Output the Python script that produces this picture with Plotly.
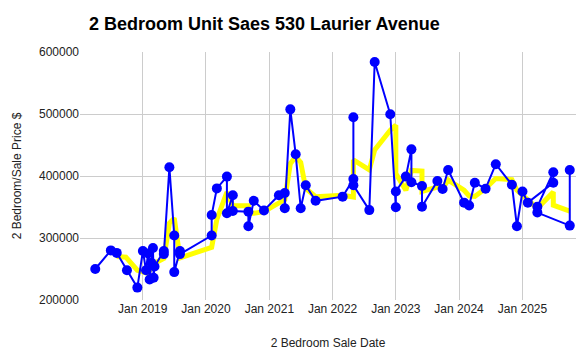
import plotly.graph_objects as go

sale_dates = [
    "2018-04-02", "2018-07-01", "2018-08-04", "2018-10-02", "2018-12-01",
    "2019-01-02", "2019-01-20", "2019-02-01", "2019-02-10", "2019-02-20",
    "2019-03-01", "2019-03-05", "2019-03-10", "2019-05-03", "2019-05-03",
    "2019-06-04", "2019-07-02", "2019-07-02", "2019-08-04", "2019-08-04",
    "2020-02-03", "2020-02-03", "2020-03-04", "2020-05-01", "2020-05-01",
    "2020-06-04", "2020-06-04", "2020-09-02", "2020-09-02", "2020-10-03",
    "2020-12-01", "2021-02-25", "2021-03-31", "2021-03-31", "2021-05-02",
    "2021-06-02", "2021-07-01", "2021-07-30", "2021-09-25", "2022-02-28",
    "2022-05-01", "2022-05-01", "2022-05-01", "2022-08-01", "2022-09-01",
    "2022-11-30", "2023-01-01", "2023-01-01", "2023-02-28", "2023-04-01",
    "2023-04-01", "2023-06-01", "2023-06-01", "2023-08-29", "2023-09-28",
    "2023-10-30", "2024-01-30", "2024-02-28", "2024-04-01", "2024-06-02",
    "2024-07-31", "2024-11-01", "2024-11-30", "2025-01-01", "2025-02-01",
    "2025-06-28", "2025-06-28", "2025-03-28", "2025-03-28", "2025-10-01",
    "2025-10-01",
]
sale_prices = [
    250000, 280000, 276000, 248000, 220000,
    279000, 248000, 275000, 233000, 260000,
    284000, 236000, 254000, 279000, 274000,
    414000, 304000, 245000, 279000, 274000,
    304000, 337000, 380000, 399000, 340000,
    369000, 343500, 342500, 319000, 360000,
    344500, 369000, 372500, 348000, 507500,
    435000, 348000, 385000, 360000, 366700,
    395000, 494700, 385000, 345000, 584000,
    499500, 349500, 375000, 399000, 443000,
    390000, 384000, 350500, 392000, 379000,
    409700, 357000, 352500, 389000, 379500,
    419000, 386000, 319000, 375000, 357000,
    389000, 406000, 350500, 341000, 320000,
    409700,
]

avg_dates = [
    "2018-08-04", "2018-09-26", "2018-12-01", "2019-01-30", "2019-03-08",
    "2019-05-03", "2019-06-04", "2019-07-02", "2019-08-04", "2020-02-03",
    "2020-03-04", "2020-05-01", "2020-06-04", "2020-09-02", "2020-09-02",
    "2020-10-03", "2020-12-01", "2021-02-25", "2021-03-31", "2021-05-02",
    "2021-06-02", "2021-07-01", "2021-07-30", "2021-09-25", "2022-02-28",
    "2022-05-01", "2022-05-01", "2022-08-01", "2022-09-01", "2022-11-30",
    "2023-01-01", "2023-01-01", "2023-02-28", "2023-04-01", "2023-06-01",
    "2023-06-01", "2023-08-29", "2023-09-28", "2023-10-30", "2024-01-30",
    "2024-02-28", "2024-04-01", "2024-06-02", "2024-07-31", "2024-11-01",
    "2024-11-30", "2025-01-01", "2025-02-01", "2025-03-28", "2025-06-28",
    "2025-06-28", "2025-10-01",
]
avg_prices = [
    270000, 269000, 248000, 243000, 259000,
    267000, 324000, 332000, 268000, 285000,
    330000, 374000, 352000, 352000, 340000,
    340000, 342500, 357500, 362000, 420000,
    431000, 422000, 380000, 366700, 369000,
    366000, 426000, 410000, 442000, 474000,
    482000, 404000, 377000, 409000, 408000,
    375000, 382000, 380000, 393500, 377000,
    368000, 367000, 380000, 396000, 394000,
    377000, 369000, 360000, 348000, 374000,
    353000, 343500,
]

title_text = "2 Bedroom Unit Saes 530 Laurier Avenue"
x_title = "2 Bedroom Sale Date"
y_title = "2 Bedroom/Sale Price $"

fig = go.Figure()
fig.add_trace(go.Scatter(
    x=avg_dates, y=avg_prices, mode="lines",
    line=dict(color="#FFFF00", width=5), showlegend=False, hoverinfo="skip",
))
fig.add_trace(go.Scatter(
    x=sale_dates, y=sale_prices, mode="lines+markers",
    line=dict(color="#0000FF", width=2),
    marker=dict(color="#0000FF", size=10), showlegend=False,
))

fig.update_layout(
    width=587, height=362,
    margin=dict(l=80, r=11, t=52, b=62, autoexpand=False),
    paper_bgcolor="white", plot_bgcolor="white",
    font=dict(family="Arial, Liberation Sans, sans-serif", size=12, color="#222222"),
    title=dict(
        text="<b>" + title_text + "</b>",
        font=dict(size=18, color="#000000", family="Arial, Liberation Sans, sans-serif"),
        xref="container", x=89 / 587, xanchor="left",
        yref="container", y=1 - 24 / 362, yanchor="middle",
        automargin=False,
    ),
    xaxis=dict(
        type="date", automargin=False,
        range=["2018-01-04", "2025-11-06"],
        tick0="2019-01-01", dtick="M12", tickformat="%b %Y",
        showgrid=True, gridcolor="#cccccc", gridwidth=1,
        zeroline=False, showline=False, ticks="",
        tickfont=dict(size=12, color="#222222"),
        title=dict(text=x_title, font=dict(size=12, color="#222222"), standoff=23),
    ),
    yaxis=dict(
        range=[200000, 600000], dtick=100000, tickformat="d", automargin=False,
        showgrid=True, gridcolor="#cccccc", gridwidth=1,
        zeroline=False, showline=False, ticks="",
        tickfont=dict(size=12, color="#222222"),
        title=dict(text=y_title, font=dict(size=12, color="#222222"), standoff=14),
    ),
)

fig.write_html("out.html", config={"displayModeBar": False},
               post_script="document.body.style.margin='0';")
